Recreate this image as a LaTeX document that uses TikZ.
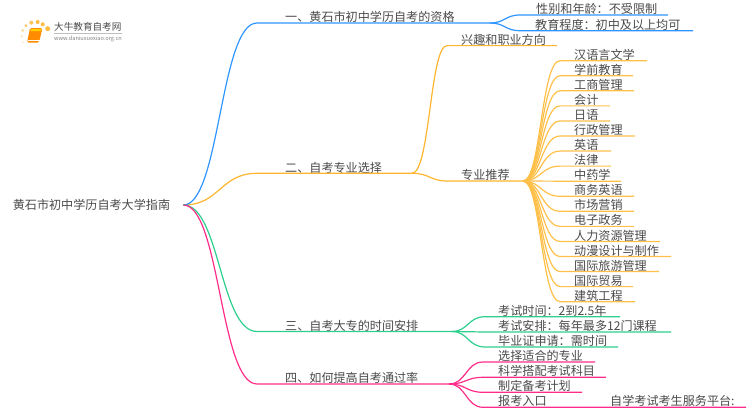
\documentclass[tikz,border=0pt]{standalone}
\usepackage{fontspec}
\setmainfont{Noto Sans CJK SC}
\definecolor{lineblue}{HTML}{2F95FF}
\definecolor{lineorange}{HTML}{FFB52E}
\definecolor{leaforange}{HTML}{FFC04A}
\definecolor{linegreen}{HTML}{2CCF8E}
\definecolor{linepink}{HTML}{FF2D8A}
\definecolor{inktext}{HTML}{4A4A4A}
\tikzset{
  label/.style = {anchor=west, inner sep=0pt, text=inktext, font=\fontsize{12.1}{14}\selectfont},
  branch/.style = {line width=1.2pt},
  twig/.style = {line width=1.2pt}
}
\begin{document}
\begin{tikzpicture}[x=1pt, y=-1pt]
\useasboundingbox (0,0) rectangle (750,410);
% logo
\foreach \px/\py/\pr/\po in {47.7/28.7/2.5/0.9, 42.7/24.3/2/0.9, 37.7/22/2/0.9, 31.3/22.7/2/0.8, 26/25.7/1.7/0.7, 22.7/30.3/1.5/0.5, 21.7/36.3/1.2/0.4, 23/42.3/1/0.3}
  \fill [lineorange, opacity=\po] (\px,\py) circle [radius = \pr];
\fill [orange!90!yellow, rounded corners=1.5pt] (30,28) -- (42.5,28) -- (39,42.5) -- (27,42.5) -- cycle;
\fill [yellow!70!orange] (31,29) -- (41.5,29) -- (41,31) -- (30.5,31) -- cycle;
\draw [white, line width=0.5pt] (27.5,40.3) -- (39.5,40.3);
\node (logotitle) [label, font=\fontsize{9.6}{11}\selectfont] at (54,27) {大牛教育自考网};
\draw [lightgray, line width=0.4pt] (54,33) -- (122,33);
\node (logourl) [label, font=\fontsize{5.6}{7}\selectfont, text=gray] at (54,38.7) {www.daniuxuexiao.org.cn};
% root and main branches
\node (root) [label, anchor=center, inner xsep=13pt] at (91.5,205) {黄石市初中学历自考大学指南};
\node (one) [label] at (285,17) {一、黄石市初中学历自考的资格};
\node (two) [label] at (285,167.5) {二、自考专业选择};
\node (three) [label] at (285,325.5) {三、自考大专的时间安排};
\node (four) [label] at (285,378) {四、如何提高自考通过率};
\coordinate (oneL) at (257,23);
\coordinate (oneR) at (490,23);
\coordinate (twoL) at (257,173.3);
\coordinate (twoR) at (412,173.3);
\coordinate (threeL) at (257,331.5);
\coordinate (threeR) at (452,331.5);
\coordinate (fourL) at (257,384);
\coordinate (fourR) at (449,384);
\draw [branch, lineorange] (root.east) .. controls (220,205) and (220,173.3) .. (twoL) -- (twoR);
\draw [branch, lineblue] (root.east) .. controls (220,205) and (220,23) .. (oneL) -- (oneR);
\draw [branch, linegreen] (root.east) .. controls (220,205) and (220,331.5) .. (threeL) -- (threeR);
\draw [branch, linepink] (root.east) .. controls (220,205) and (220,384) .. (fourL) -- (fourR);
% first branch
\foreach \nm/\tx/\ty/\yy/\xe/\words in {sex/536/9/15/668/性别和年龄：不受限制, edu/535/24.5/30.7/693/教育程度：初中及以上均可}{
  \node (\nm) [label] at (\tx,\ty) {\words};
  \coordinate (\nm E) at (\xe,\yy);
  \draw [twig, lineblue] (oneR) .. controls (505,23) and (505,\yy) .. (520,\yy) -- (\nm E);
}
% second branch
\node (hobby) [label] at (461,39.5) {兴趣和职业方向};
\node (major) [label] at (461,175) {专业推荐};
\coordinate (hobbyE) at (557,45.6);
\coordinate (majorE) at (523,181);
\draw [twig, lineorange] (twoR) .. controls (430,173.3) and (430,45.6) .. (447,45.6) -- (hobbyE);
\draw [twig, lineorange] (twoR) .. controls (430,173.3) and (430,181) .. (447,181) -- (majorE);
\foreach \i/\xe/\words in {0/647/汉语言文学, 1/633/学前教育, 2/634/工商管理, 3/610/会计, 4/610/日语, 5/635/行政管理, 6/611/英语, 7/611/法律, 8/621/中药学, 9/634/商务英语, 10/634/市场营销, 11/634/电子政务, 12/660/人力资源管理, 13/671/动漫设计与制作, 14/659/国际旅游管理, 15/633/国际贸易, 16/635/建筑工程}{
  \pgfmathsetmacro{\yy}{60.7+15.06*\i}
  \node (leaf\i) [label] at (574,\yy-6) {\words};
  \coordinate (leaf\i E) at (\xe,\yy);
  \draw [twig, leaforange] (majorE) .. controls (541,181) and (541,\yy) .. (560,\yy) -- (leaf\i E);
}
% third branch
\foreach \nm/\yy/\xe/\words in {time/316.7/620/考试时间：2到2.5年, plan/332/671/考试安排：每年最多12门课程, cert/347/618/毕业证申请：需时间}{
  \node (\nm) [label] at (498,\yy-6) {\words};
  \coordinate (\nm E) at (\xe,\yy);
  \draw [twig, linegreen] (threeR) .. controls (468,331.5) and (468,\yy) .. (485,\yy) -- (\nm E);
}
% fourth branch
\foreach \nm/\yy/\xe/\words in {pick/362/595/选择适合的专业, subj/377.3/606/科学搭配考试科目, prep/392.3/582/制定备考计划, gate/407.3/746/报考入口}{
  \node (\nm) [label] at (498,\yy-6) {\words};
  \coordinate (\nm E) at (\xe,\yy);
  \draw [twig, linepink] (fourR) .. controls (466,384) and (466,\yy) .. (483,\yy) -- (\nm E);
}
\node (service) [label] at (610,401.3) {自学考试考生服务平台:};
\end{tikzpicture}
\end{document}
